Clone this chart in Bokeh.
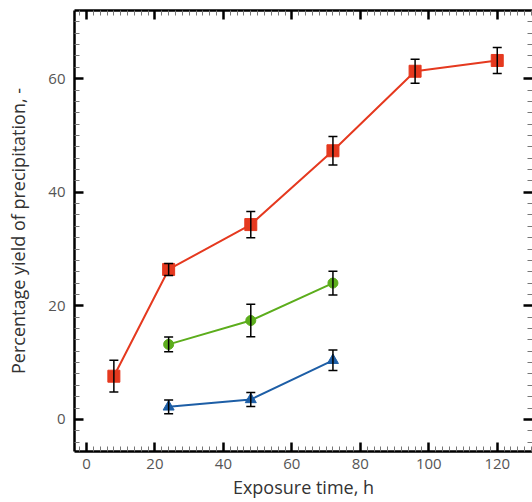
from bokeh.plotting import figure
from bokeh.models import (ColumnDataSource, Whisker, TeeHead, LinearAxis, FixedTicker, Range1d,
                          CustomJSTickFormatter)
from bokeh.embed import file_html
from bokeh.resources import INLINE

# Data
red_x = [8, 24, 48, 72, 96, 120]
red_y = [7.6, 26.4, 34.3, 47.3, 61.3, 63.2]
red_err = [2.8, 1.05, 2.3, 2.5, 2.1, 2.3]

green_x = [24, 48, 72]
green_y = [13.2, 17.4, 24.0]
green_err = [1.3, 2.85, 2.1]

blue_x = [24, 48, 72]
blue_y = [2.2, 3.5, 10.4]
blue_err = [1.2, 1.25, 1.8]

x_major = [0, 20, 40, 60, 80, 100, 120]
y_major = [0, 20, 40, 60]

RED = "#e5391f"
GREEN = "#5cad1c"
BLUE = "#1d5ea6"
FONT = "Open Sans"

p = figure(width=532, height=502, output_backend="svg", toolbar_location=None,
           x_range=Range1d(-3.5, 130.3), y_range=Range1d(-5.66, 72.0),
           min_border_left=74, min_border_top=10, min_border_bottom=51, min_border_right=0)
p.outline_line_color = None
p.grid.visible = False
p.background_fill_color = "white"
p.border_fill_color = "white"

x_minor = [v for v in range(-2, 132, 2) if v % 20 != 0]
y_minor = [v for v in range(-4, 72, 2) if v % 20 != 0]
xt = FixedTicker(ticks=x_major, minor_ticks=x_minor)
yt = FixedTicker(ticks=y_major, minor_ticks=y_minor)

def style(ax, labels=True):
    ax.axis_line_width = 2.5
    ax.axis_line_color = "black"
    ax.major_tick_in = 9
    ax.major_tick_out = 0
    ax.major_tick_line_width = 2.5
    ax.major_tick_line_color = "black"
    ax.minor_tick_in = 5
    ax.minor_tick_out = 0
    ax.minor_tick_line_width = 1
    ax.minor_tick_line_color = "#777777"
    ax.major_label_text_font = FONT
    ax.major_label_text_font_size = "15px"
    ax.major_label_text_color = "#555555"
    ax.axis_label_text_font = FONT
    ax.axis_label_text_font_style = "normal"
    ax.axis_label_text_font_size = "18px"
    ax.axis_label_text_color = "#333333"
    if not labels:
        ax.formatter = CustomJSTickFormatter(code="return ''")
        ax.major_label_standoff = 0

xa = p.xaxis[0]
ya = p.yaxis[0]
xa.ticker = xt
ya.ticker = yt
style(xa)
style(ya)
xa.axis_label = "Exposure time, h"
ya.axis_label = "Percentage yield of precipitation, -"
xa.major_label_standoff = 7
xa.axis_label_standoff = 3
ya.major_label_standoff = 9
ya.axis_label_standoff = 15

top = LinearAxis(ticker=FixedTicker(ticks=x_major, minor_ticks=x_minor))
style(top, labels=False)
p.add_layout(top, "above")

right = LinearAxis(ticker=FixedTicker(ticks=y_major, minor_ticks=y_minor))
style(right, labels=False)
right.axis_line_color = None
p.add_layout(right, "right")

def series(xs, ys, errs, color, marker, size):
    src = ColumnDataSource(dict(x=xs, y=ys,
                                lo=[a - b for a, b in zip(ys, errs)],
                                hi=[a + b for a, b in zip(ys, errs)]))
    p.line("x", "y", source=src, line_color=color, line_width=2)
    p.scatter("x", "y", source=src, marker=marker, size=size, fill_color=color,
              line_color=color)
    w = Whisker(base="x", upper="hi", lower="lo", source=src, line_color="black",
                line_width=1.5, level="annotation",
                upper_head=TeeHead(size=9, line_color="black", line_width=1.5),
                lower_head=TeeHead(size=9, line_color="black", line_width=1.5))
    p.add_layout(w)

series(red_x, red_y, red_err, RED, "square", 12)
series(green_x, green_y, green_err, GREEN, "circle", 10)
series(blue_x, blue_y, blue_err, BLUE, "triangle", 11)

open("out.html", "w").write(file_html(p, INLINE))
